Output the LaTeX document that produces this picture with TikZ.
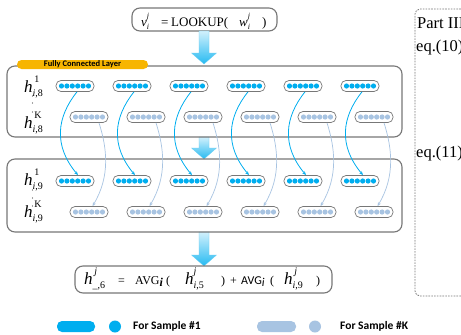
\documentclass[tikz,border=0pt]{standalone}
\usepackage{fontspec}
\setmainfont{Liberation Serif}
\newfontfamily\calib{Carlito}
\usetikzlibrary{arrows.meta}
\definecolor{cblue}{HTML}{00AEEF}
\definecolor{clight}{HTML}{A8C4E2}
\definecolor{cgray}{HTML}{777777}
\definecolor{corange}{HTML}{F7B500}
% base, sub, sup, script size
\newcommand\supsubx[4]{#1\rlap{\raisebox{0.55em}{\fontsize{#4}{#4}\selectfont #3}}\raisebox{-0.28em}{\fontsize{#4}{#4}\selectfont #2}}
\newcommand\capsulerow[5]{%
  \foreach \cx [count=\n] in {#2} {
    \node[capsule] (#1\n) at (\cx+#3,#4) {};
    \foreach \k in {-13.5,-8.1,-2.7,2.7,8.1,13.5}
      \fill[#5] ([xshift=\k pt]#1\n.center) circle (2.6pt);
  }}
\newcommand\bigarrow[3]{%
  \shade[top color=cblue!18, bottom color=cblue!85, draw=cblue!60, line width=0.3pt]
    (#1-5,#2) -- (#1+5,#2) -- (#1+5,#3-11) -- (#1+12.5,#3-11) -- (#1,#3)
    -- (#1-12.5,#3-11) -- (#1-5,#3-11) -- cycle;}
\tikzset{
  capsule/.style={draw=cgray, line width=0.7pt, fill=white, rounded corners=5pt,
    minimum width=38pt, minimum height=11pt, inner sep=0pt},
  bigbox/.style={draw=cgray, line width=1.1pt, rounded corners=8pt, inner sep=0pt},
  eqbox/.style={draw=cgray, line width=1.1pt, rounded corners=8pt, inner sep=0pt},
  piece/.style={anchor=base west, inner sep=0pt},
  parttext/.style={anchor=base west, inner sep=0pt, font=\fontsize{16.5}{16.5}\selectfont},
  vdot/.style={fill=black!70},
  bluearrow/.style={cblue, line width=0.8pt, -{Stealth[length=4pt,width=3.2pt]}},
  lightarrow/.style={clight, line width=0.7pt, -{Stealth[length=4pt,width=3.2pt]}},
  legtext/.style={font=\calib\bfseries\fontsize{11.5}{12}\selectfont, anchor=west, inner sep=0pt},
}
\begin{document}
\begin{tikzpicture}[x=1pt,y=-1pt]
\useasboundingbox (0,0) rectangle (461,335);
\fill[white] (0,0) rectangle (461,335);

% dashed panel on the right
\draw[cgray, line width=0.8pt, dash pattern=on 1.6pt off 1.2pt, rounded corners=5pt]
  (500,9) -- (415,9) -- (415,296) -- (500,296);
\node[parttext] (part) at (417,28) {Part III};
\node[parttext] (eq10) at (416,51) {eq.(10)};
\node[parttext] (eq11) at (416,157) {eq.(11)};

% top equation box
\node[eqbox, minimum width=145pt, minimum height=23pt] (top) at (204.5,19.5) {};
\begin{scope}[font=\fontsize{13}{13}\selectfont]
\node[piece] (tv) at (141,26) {\supsubx{\textit{v}}{\textit{i}}{\textit{j}}{8}};
\node[piece] (teq) at (161,26) {=};
\node[piece] (tlook) at (171,26) {LOOKUP(};
\node[piece] (tw) at (239,26) {\supsubx{\textit{w}}{\textit{i}}{\textit{j}}{8}};
\node[piece] (tclose) at (262,26) {)};
\end{scope}

% arrows
\bigarrow{204}{31}{64}
\bigarrow{204}{137}{159}
\bigarrow{204}{232}{266}

% layer boxes
\node[bigbox, minimum width=395pt, minimum height=71pt] (box1) at (204.5,101.5) {};
\node[bigbox, minimum width=395pt, minimum height=73pt] (box2) at (204.5,195.5) {};

% fully connected label
\node[fill=corange, rounded corners=4.5pt, minimum width=131pt, minimum height=9pt, inner sep=0pt,
  font=\calib\bfseries\fontsize{8.5}{9}\selectfont] (fcl) at (82.5,64.5) {Fully Connected Layer};

% labels
\node[piece, font=\fontsize{17}{17}\selectfont] (h81) at (24,92) {\supsubx{\textit{h}}{\textit{i},8}{\,1}{10}};
\node[piece, font=\fontsize{17}{17}\selectfont] (h8K) at (24,128) {\supsubx{\textit{h}}{\textit{i},8}{\,K}{10}};
\node[piece, font=\fontsize{17}{17}\selectfont] (h91) at (24,185) {\supsubx{\textit{h}}{\textit{i},9}{\,1}{10}};
\node[piece, font=\fontsize{17}{17}\selectfont] (h9K) at (24,217) {\supsubx{\textit{h}}{\textit{i},9}{\,K}{10}};
\foreach \yy in {96,103,112} \fill[vdot] (32.5,\yy) circle (0.6pt);
\foreach \yy in {190,198,206} \fill[vdot] (32.5,\yy) circle (0.6pt);

% capsules
\capsulerow{a}{75,132,189,246,303,360}{0}{86}{cblue}
\capsulerow{b}{75,132,189,246,303,360}{14}{117}{clight}
\capsulerow{c}{75,132,189,246,303,360}{0}{181}{cblue}
\capsulerow{d}{75,132,189,246,303,360}{14}{212}{clight}

% connectors
\foreach \n in {1,...,6} {
  \draw[bluearrow] ([xshift=2pt]a\n.south) .. controls +(-20,25) and +(-25,-30) .. ([xshift=3pt]c\n.north);
  \draw[lightarrow] ([xshift=10pt]b\n.south) .. controls +(8,25) and +(18,-30) .. ([xshift=3.5pt]d\n.north);
}

% bottom equation box
\node[eqbox, minimum width=257pt, minimum height=27pt] (bot) at (203.5,279.5) {};
\begin{scope}[font=\fontsize{12}{12}\selectfont]
\node[piece, font=\fontsize{17}{17}\selectfont] (bh1) at (84,284) {\supsubx{\textit{h}}{\_,6}{\,\textit{j}}{10}};
\node[piece] (beq) at (118,284) {=};
\node[piece] (bavg1) at (135,284) {AVG\raisebox{-0.2em}{\textit{\textbf{i}}}};
\node[piece] (bo1) at (166,284) {(};
\node[piece, font=\fontsize{17}{17}\selectfont] (bh2) at (185,284) {\supsubx{\textit{h}}{\textit{i},5}{\textit{j}}{10}};
\node[piece] (bc1) at (221,284) {)};
\node[piece] (bplus) at (230,284) {+};
\node[piece, font=\calib\fontsize{12}{12}\selectfont] (bavg2) at (241,284) {AVG\raisebox{-0.2em}{\textit{i}}};
\node[piece] (bo2) at (270,284) {(};
\node[piece, font=\fontsize{17}{17}\selectfont] (bh3) at (284,284) {\supsubx{\textit{h}}{\textit{i},9}{\,\textit{j}}{10}};
\node[piece] (bc2) at (316,284) {)};
\end{scope}

% legend
\fill[cblue, rounded corners=5pt] (57,321) rectangle (95,332);
\node[circle, fill=cblue, minimum size=12pt, inner sep=0pt] (l1) at (115,326.5) {};
\node[legtext] (t1) at (133,326.5) {For Sample \#1};
\fill[clight, rounded corners=5pt] (257,321) rectangle (296,332);
\node[circle, fill=clight, minimum size=12pt, inner sep=0pt] (l2) at (315,326.5) {};
\node[legtext] (t2) at (340,326.5) {For Sample \#K};
\end{tikzpicture}
\end{document}
